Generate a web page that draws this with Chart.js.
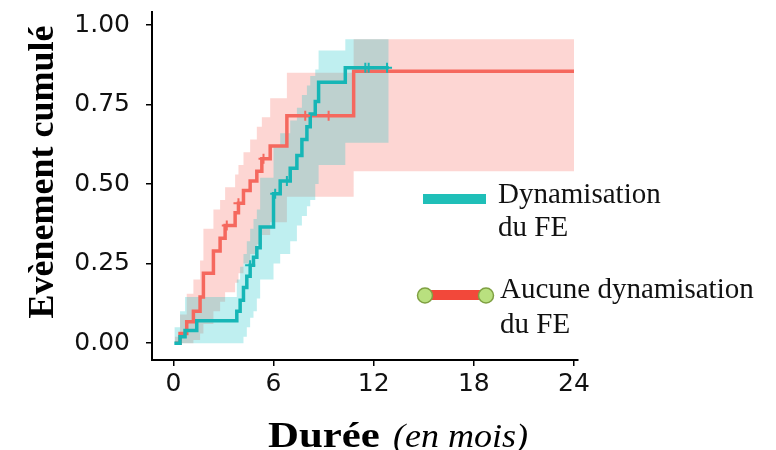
<!DOCTYPE html>
<html>
<head>
<meta charset="utf-8">
<script src="https://cdn.jsdelivr.net/npm/chart.js@4.4.1/dist/chart.umd.min.js"></script>
<style>
  body { margin: 0; background: #fff; }
</style>
</head>
<body>
<canvas id="km" width="776" height="450"></canvas>
<script>
// axes
const xTicks = [0, 6, 12, 18, 24];
const xTickLabels = ['0', '6', '12', '18', '24'];
const yTicks = [0, 0.25, 0.5, 0.75, 1];
const yTickLabels = ['0.00', '0.25', '0.50', '0.75', '1.00'];

// Aucune dynamisation du FE (rouge)
const redTime  = [0.1, 0.4, 0.8, 1.2, 1.6, 1.8, 2.4, 2.8, 3.1, 3.7, 3.9, 4.2, 4.6, 5.0, 5.3, 5.8, 6.8, 10.8, 24];
const redCum   = [0, 0.03, 0.067, 0.10, 0.145, 0.22, 0.29, 0.33, 0.37, 0.41, 0.44, 0.48, 0.51, 0.54, 0.58, 0.62, 0.715, 0.855, 0.855];
const redHaut  = [0.02, 0.09, 0.155, 0.20, 0.26, 0.36, 0.42, 0.45, 0.49, 0.53, 0.56, 0.60, 0.64, 0.68, 0.71, 0.77, 0.85, 0.955, 0.955];
const redBas   = [0, 0, 0, 0.01, 0.03, 0.06, 0.10, 0.13, 0.16, 0.19, 0.22, 0.25, 0.28, 0.31, 0.34, 0.38, 0.46, 0.54, 0.54];
const redCensT = [3.2, 3.9, 5.4, 7.9, 9.3];
const redCensV = [0.37, 0.44, 0.58, 0.715, 0.715];

// Dynamisation du FE (turquoise)
const tealTime  = [0.06, 0.4, 0.7, 1.4, 3.8, 4.0, 4.2, 4.4, 4.6, 4.8, 5.0, 5.2, 6.0, 6.4, 7.0, 7.4, 7.7, 8.0, 8.2, 8.5, 8.7, 10.3, 12.9];
const tealCum   = [0, 0.02, 0.04, 0.07, 0.10, 0.135, 0.175, 0.21, 0.245, 0.27, 0.30, 0.365, 0.47, 0.51, 0.55, 0.59, 0.64, 0.68, 0.72, 0.76, 0.82, 0.866, 0.866];
const tealHaut  = [0.05, 0.10, 0.145, 0.145, 0.20, 0.24, 0.28, 0.32, 0.36, 0.39, 0.42, 0.52, 0.62, 0.66, 0.70, 0.74, 0.78, 0.81, 0.84, 0.86, 0.92, 0.955, 0.955];
const tealBas   = [0, 0, 0, 0, 0, 0, 0.02, 0.05, 0.08, 0.10, 0.14, 0.20, 0.25, 0.28, 0.32, 0.37, 0.40, 0.43, 0.45, 0.50, 0.56, 0.63, 0.63];
const tealCensT = [4.6, 6.1, 6.8, 11.5, 11.7, 12.8];
const tealCensV = [0.245, 0.47, 0.51, 0.866, 0.866, 0.866];

const RED = '#F5685E';
const TEAL = '#16B6B6';

function pts(t, v) {
  return t.map((x, i) => ({ x: x, y: v[i] }));
}

function band(t, v, bg, fill) {
  return {
    data: pts(t, v), stepped: 'before', borderWidth: 0, borderColor: 'transparent',
    backgroundColor: bg, fill: fill, pointRadius: 0
  };
}

// texte un peu élargi, comme sur l'original
function wideText(c, txt, x, y, font, sx) {
  c.save();
  c.translate(x, y);
  c.scale(sx, 1);
  c.font = font;
  c.fillText(txt, 0, 0);
  c.restore();
}

// titres et légende dessinés à la main
const decor = {
  id: 'decor',
  afterDraw(chart) {
    const c = chart.ctx;
    c.save();
    c.fillStyle = '#000';

    // titre axe y
    c.save();
    c.translate(53, 172);
    c.rotate(-Math.PI / 2);
    c.font = 'bold 36px "Liberation Serif"';
    c.textAlign = 'center';
    c.textBaseline = 'alphabetic';
    c.fillText('Evènement cumulé', 0, 0);
    c.restore();

    // titre axe x
    c.textAlign = 'left';
    c.textBaseline = 'alphabetic';
    wideText(c, 'Durée', 268, 447, 'bold 36px "Liberation Serif"', 1.19);
    wideText(c, '(en mois)', 393, 447, 'italic 34px "Liberation Serif"', 1.06);

    // légende
    c.fillStyle = '#1FBFB8';
    c.fillRect(423, 194, 63, 10);
    c.fillStyle = '#F2483A';
    c.fillRect(425, 290, 61, 10);
    c.fillStyle = '#B9E07F';
    c.strokeStyle = '#7FA042';
    c.lineWidth = 1.5;
    [425, 486].forEach(x => {
      c.beginPath();
      c.arc(x, 295.5, 7.5, 0, Math.PI * 2);
      c.fill();
      c.stroke();
    });

    c.fillStyle = '#111';
    c.font = '29px "Liberation Serif"';
    c.fillText('Dynamisation', 498, 203);
    c.fillText('du FE', 498, 236);
    c.fillText('Aucune dynamisation', 500, 298);
    c.fillText('du FE', 500, 333);
    c.restore();
  }
};

new Chart(document.getElementById('km'), {
  type: 'line',
  data: {
    datasets: [
      { data: pts(tealCensT, tealCensV), showLine: false, pointStyle: 'cross', pointRadius: 5,
        pointBorderWidth: 2, borderColor: TEAL, pointBorderColor: TEAL },
      { data: pts(redCensT, redCensV), showLine: false, pointStyle: 'cross', pointRadius: 5,
        pointBorderWidth: 2, borderColor: RED, pointBorderColor: RED },
      { data: pts(tealTime, tealCum), stepped: 'before', borderColor: TEAL, borderWidth: 3.5, pointRadius: 0, fill: false },
      { data: pts(redTime, redCum), stepped: 'before', borderColor: RED, borderWidth: 3.5, pointRadius: 0, fill: false },
      band(tealTime, tealHaut, 'rgba(0,191,196,0.25)', '+1'),
      band(tealTime, tealBas, 'transparent', false),
      band(redTime, redHaut, 'rgba(248,118,109,0.3)', '+1'),
      band(redTime, redBas, 'transparent', false)
    ]
  },
  options: {
    responsive: false,
    animation: false,
    layout: { padding: { left: 0, top: 12, right: 198, bottom: 0 } },
    plugins: { legend: { display: false }, tooltip: { enabled: false } },
    scales: {
      x: {
        type: 'linear', min: -1.28, max: 24.24,
        afterBuildTicks: s => { s.ticks = xTicks.map(v => ({ value: v })); },
        afterFit: s => { s.height = 90; s.paddingLeft = 0; s.paddingRight = 0; },
        grid: { drawOnChartArea: false, drawTicks: true, tickLength: 6, color: '#000', lineWidth: 1.5 },
        border: { display: true, color: '#000', width: 2 },
        ticks: { color: '#111', padding: 3, font: { family: 'DejaVu Sans', size: 25 },
                 callback: (v, i) => xTickLabels[i] }
      },
      y: {
        min: -0.053, max: 1.041,
        afterBuildTicks: s => { s.ticks = yTicks.map(v => ({ value: v })); },
        afterFit: s => { s.width = 152; s.paddingTop = 0; s.paddingBottom = 0; },
        grid: { drawOnChartArea: false, drawTicks: true, tickLength: 6, color: '#000', lineWidth: 1.5 },
        border: { display: true, color: '#000', width: 2 },
        ticks: { color: '#111', padding: 16, font: { family: 'DejaVu Sans', size: 25 },
                 callback: (v, i) => yTickLabels[i] }
      }
    }
  },
  plugins: [decor]
});
</script>
</body>
</html>
